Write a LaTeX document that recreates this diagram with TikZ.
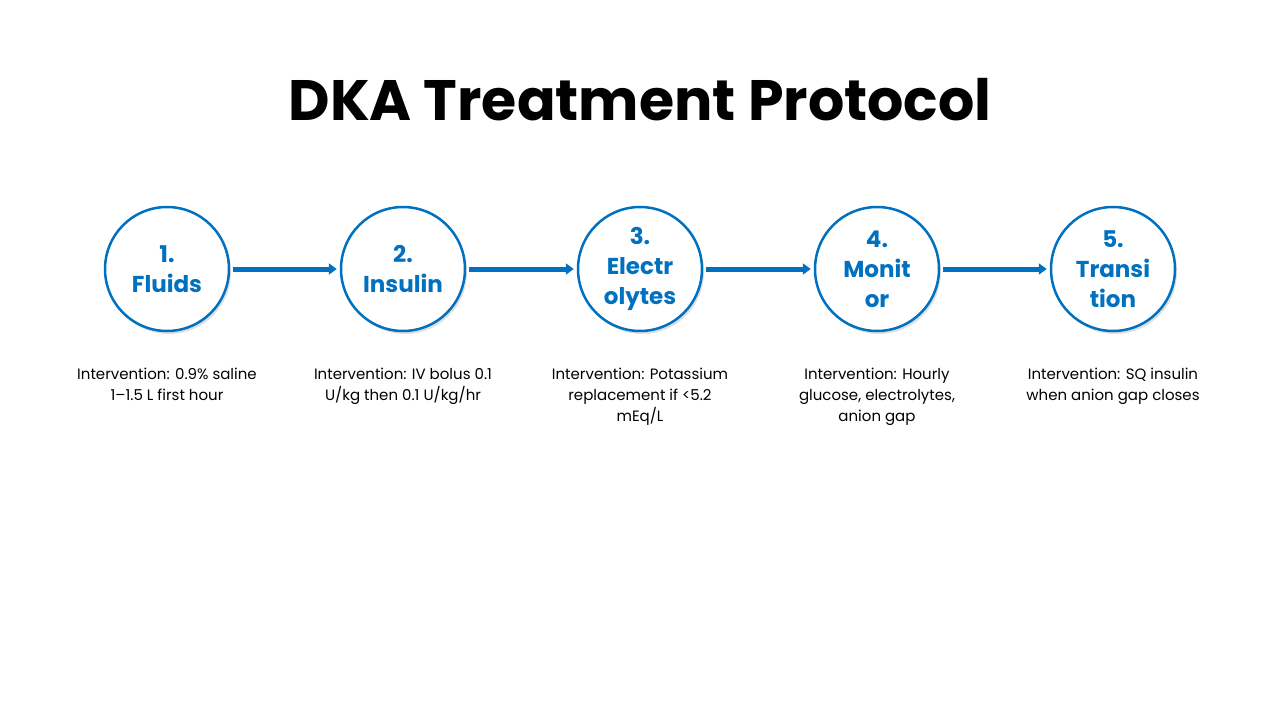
\documentclass[tikz,border=0pt]{standalone}
\usepackage{fontspec}
\setmainfont{Poppins}
\usetikzlibrary{positioning,shadows,arrows.meta}
\definecolor{stepblue}{HTML}{0070C0}
\tikzset{
stage/.style={circle,draw=stepblue,line width=2.5pt,fill=white,minimum size=124pt,
  inner sep=0pt,align=center,text=stepblue,font=\fontsize{23}{30}\selectfont\bfseries,
  drop shadow={opacity=0.25,shadow xshift=2pt,shadow yshift=-3pt}},
note/.style={align=center,font=\fontsize{15}{21}\selectfont,anchor=north},
flow/.style={-{Triangle[length=8pt,width=11pt]},stepblue,line width=5pt,shorten >=3pt,shorten <=3pt}
}
\begin{document}
\begin{tikzpicture}[x=1pt,y=-1pt]
\useasboundingbox (0,0) rectangle (1280,720);
\node[font=\fontsize{57}{66}\selectfont\bfseries] (title) at (640,100) {DKA Treatment Protocol};
% the stages
\node[stage] (s1) at (167,269) {1.\\Fluids};
\node[stage] (s2) at (403,269) {2.\\Insulin};
\node[stage] (s3) at (640,269) {3.\\Electr\\olytes};
\node[stage] (s4) at (877,269) {4.\\Monit\\or};
\node[stage] (s5) at (1113,269) {5.\\Transi\\tion};
% the notes
\node[note] (n1) at (167,365) {Intervention: 0.9\% saline\\1--1.5 L first hour};
\node[note] (n2) at (403,365) {Intervention: IV bolus 0.1\\U/kg then 0.1 U/kg/hr};
\node[note] (n3) at (640,365) {Intervention: Potassium\\replacement if <5.2\\mEq/L};
\node[note] (n4) at (877,365) {Intervention: Hourly\\glucose, electrolytes,\\anion gap};
\node[note] (n5) at (1113,365) {Intervention: SQ insulin\\when anion gap closes};
% the arrows
\foreach \x in {1,...,4}
{
  \pgfmathtruncatemacro{\y}{\x + 1};
  \draw[flow] (s\x) -- (s\y);
}
\end{tikzpicture}
\end{document}
